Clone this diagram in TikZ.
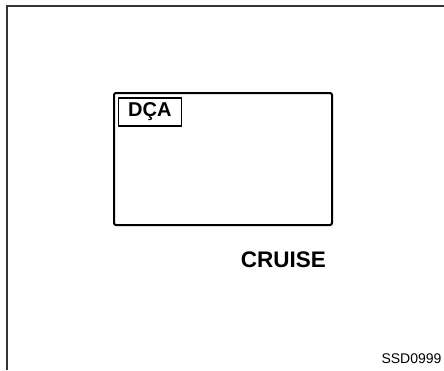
\documentclass[tikz,border=0pt]{standalone}
\usepackage{fontspec}
\setmainfont{Liberation Sans}
\usetikzlibrary{positioning}
\tikzset{
  frame/.style   = {line width=2pt, black!80},
  screen/.style  = {rectangle, rounded corners=2pt, draw, line width=2pt,
                    minimum width=218pt, minimum height=132pt, inner sep=0pt},
  tagbox/.style  = {rectangle, draw, line width=1.6pt, minimum width=63pt,
                    minimum height=28pt, inner sep=0pt,
                    font=\fontsize{20}{20}\selectfont\bfseries},
  caption/.style = {inner sep=0pt, font=\fontsize{22.5}{22.5}\selectfont\bfseries},
  figno/.style   = {inner sep=0pt, font=\fontsize{14}{14}\selectfont},
}
\begin{document}
\begin{tikzpicture}[x=1pt, y=-1pt]
  \useasboundingbox (0,0) rectangle (444,370);

  % figure frame (top and left only)
  \draw[frame] (444,5.5) -- (6.5,5.5) -- (6.5,370);

  % display
  \node[screen] (disp) at (223,159) {};
  \node[tagbox, below right=5pt and 4.5pt of disp.north west] (dca) {DÇA};

  % labels
  \node[caption] (cruise) at (283.5,260) {CRUISE};
  \node[figno] (code) at (411.5,358.5) {SSD0999};
\end{tikzpicture}
\end{document}
